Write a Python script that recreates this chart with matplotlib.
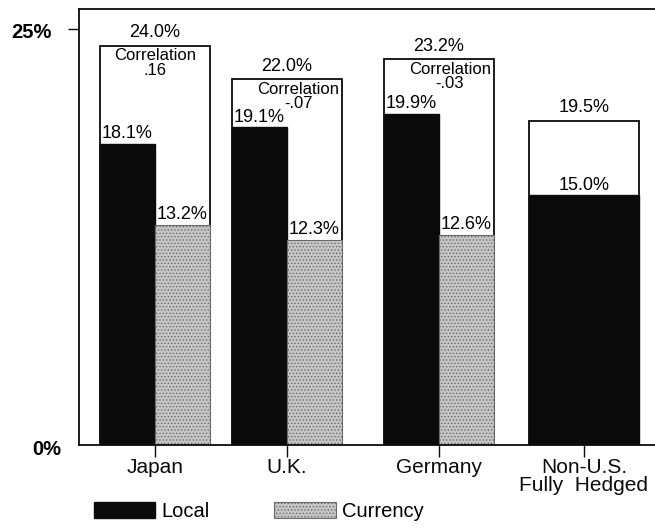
import numpy as np
import matplotlib
matplotlib.use('Agg')
import matplotlib.pyplot as plt
import matplotlib.transforms as mtransforms


# chart values
countries = ['Japan', 'U.K.', 'Germany', 'Non-U.S.\nFully  Hedged']
local = [18.1, 19.1, 19.9, 15.0]
currency = [13.2, 12.3, 12.6]
total = [24.0, 22.0, 23.2, 19.5]
correlation = ['.16', '-.07', '-.03']

# layout
xpos = np.array([0.0, 1.0, 2.15, 3.25])
w = 0.417
corr_shift = [0, 8, 8]  # points, keeps the note clear of the local label
black = '#0b0b0b'
stipple = '#c6c6c6'

plt.rcParams['font.family'] = ['Liberation Sans', 'DejaVu Sans']
plt.rcParams['hatch.linewidth'] = 0.6

fig = plt.figure(figsize=(6.55, 5.31), dpi=100)
ax = fig.add_axes([79 / 655, 1 - 445 / 531, 1 - 79 / 655, (445 - 9) / 531])

# total boxes behind the component bars
boxes = ax.bar(xpos, total, width=2 * w, color='white', edgecolor=black,
               linewidth=1.3, zorder=1)

# local bars (single wide bar for the hedged portfolio)
lx = np.append(xpos[:3] - w / 2, xpos[3])
lw = [w, w, w, 2 * w]
loc_bars = ax.bar(lx, local, width=lw, color=black, edgecolor=black,
                  linewidth=1.0, zorder=2, label='Local')

cur_bars = ax.bar(xpos[:3] + w / 2, currency, width=w, color=stipple,
                  edgecolor='#6a6a6a', hatch='.....', linewidth=0.8,
                  zorder=2, label='Currency')

fs = 13
ax.bar_label(boxes, labels=[f'{v:.1f}%' for v in total], padding=3,
             fontsize=fs)
ax.bar_label(loc_bars, labels=[f'{v:.1f}%' for v in local], padding=1,
             fontsize=fs)
ax.bar_label(cur_bars, labels=[f'{v:.1f}%' for v in currency], padding=2,
             fontsize=fs)

for x, t, c, dx in zip(xpos, total, correlation, corr_shift):
    ax.annotate(f'Correlation\n{c}', xy=(x, t), xytext=(dx, -2),
                textcoords='offset points', ha='center', va='top',
                fontsize=12, linespacing=0.95, zorder=3)

ax.set_xlim(-0.576, 3.788)
ax.set_ylim(0, (445 - 9) / 16.64)

for side in ['left', 'top', 'bottom']:
    ax.spines[side].set_linewidth(1.3)
    ax.spines[side].set_color(black)
ax.spines['right'].set_visible(False)

ax.set_xticks(xpos, countries)
ax.tick_params(axis='x', length=8.5, width=1.0, pad=1, labelsize=15,
               colors=black)
for lab in ax.get_xticklabels():
    lab.set_linespacing(0.95)

ax.set_yticks([25])
ax.set_yticklabels([])
ax.tick_params(axis='y', length=8, width=1.0, colors=black)

trans = mtransforms.blended_transform_factory(ax.transAxes, ax.transData)
ax.text(-0.047, 24.8, '25%', transform=trans, ha='right', va='center',
        fontsize=14.5, fontweight='bold')
ax.text(-0.030, -0.25, '0%', transform=trans, ha='right', va='center',
        fontsize=14.5, fontweight='bold', clip_on=False)

fig.legend(handles=[loc_bars, cur_bars], labels=['Local', 'Currency'],
           loc='upper left', bbox_to_anchor=(94 / 655, 1 - 502 / 531),
           ncol=2, frameon=False, fontsize=14.5, handlelength=3.05,
           handleheight=0.8, handletextpad=0.3, columnspacing=3.2,
           borderpad=0, borderaxespad=0)

fig.savefig('out.png', dpi=100)
